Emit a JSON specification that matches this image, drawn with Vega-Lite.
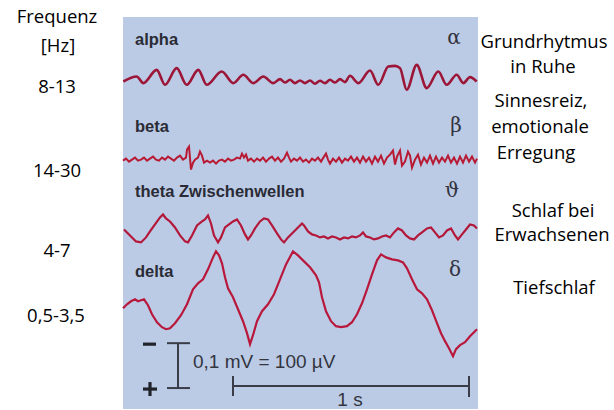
{
  "$schema": "https://vega.github.io/schema/vega-lite/v6.json",
  "width": 614,
  "height": 410,
  "autosize": {"type": "fit", "contains": "padding"},
  "padding": 0,
  "background": "white",
  "config": {"view": {"stroke": null}},
  "datasets": {
    "panel": [{"x": 123, "x2": 478, "y": 17, "y2": 410}],
    "alpha": [
      {"x":123.3,"y":81.7},{"x":136.7,"y":76.7},{"x":143.3,"y":83.3},{"x":156.7,"y":70},{"x":165,"y":85},{"x":176.7,"y":68.3},{"x":186.7,"y":85},{"x":198.3,"y":70},{"x":206.7,"y":85},{"x":221.7,"y":71.7},{"x":233.3,"y":83.3},{"x":243.3,"y":75},{"x":253.3,"y":83.3},{"x":263.3,"y":76.7},{"x":273.3,"y":83.3},{"x":280,"y":79.3},{"x":285,"y":82.7},{"x":290,"y":80},{"x":295,"y":83.3},{"x":300,"y":80.7},{"x":305,"y":83.3},{"x":310,"y":80.7},{"x":315,"y":84},{"x":320,"y":81},{"x":325,"y":83.3},{"x":330,"y":80},{"x":335,"y":82.7},{"x":340,"y":79.3},{"x":345,"y":82.3},{"x":350,"y":76},{"x":358.3,"y":83.3},{"x":370,"y":70.7},{"x":378.3,"y":85},{"x":388.3,"y":66.7},{"x":395,"y":66},{"x":400,"y":68.3},{"x":406.7,"y":90},{"x":416.7,"y":65},{"x":426.7,"y":88.3},{"x":438.3,"y":71.7},{"x":446.7,"y":85},{"x":456.7,"y":75},{"x":463.3,"y":83.3},{"x":470,"y":77.3},{"x":476.7,"y":81.7}
    ],
    "beta": [
      {"x":123,"y":161},{"x":126,"y":159},{"x":129,"y":162},{"x":132,"y":160},{"x":135,"y":158},{"x":138,"y":161},{"x":141,"y":160},{"x":144,"y":158},{"x":147,"y":161},{"x":150,"y":159},{"x":153,"y":157},{"x":156,"y":160},{"x":159,"y":161},{"x":162,"y":158},{"x":165,"y":160},{"x":168,"y":157},{"x":171,"y":159},{"x":174,"y":161},{"x":177,"y":158},{"x":180,"y":156},{"x":183,"y":160},{"x":186,"y":158},{"x":187,"y":150},{"x":189,"y":147},{"x":191,"y":170},{"x":193,"y":163},{"x":195,"y":160},{"x":198,"y":158},{"x":200,"y":152},{"x":202,"y":156},{"x":204,"y":163},{"x":207,"y":161},{"x":210,"y":163},{"x":213,"y":161},{"x":216,"y":164},{"x":219,"y":161},{"x":222,"y":160},{"x":225,"y":162},{"x":228,"y":159},{"x":231,"y":161},{"x":234,"y":160},{"x":237,"y":158},{"x":240,"y":159},{"x":242,"y":154},{"x":244,"y":158},{"x":246,"y":155},{"x":248,"y":161},{"x":251,"y":159},{"x":254,"y":162},{"x":257,"y":159},{"x":260,"y":161},{"x":263,"y":158},{"x":266,"y":162},{"x":269,"y":159},{"x":272,"y":157},{"x":275,"y":161},{"x":278,"y":158},{"x":281,"y":162},{"x":284,"y":159},{"x":287,"y":153},{"x":289,"y":158},{"x":291,"y":162},{"x":294,"y":159},{"x":297,"y":161},{"x":300,"y":158},{"x":303,"y":162},{"x":306,"y":160},{"x":309,"y":163},{"x":312,"y":159},{"x":315,"y":161},{"x":318,"y":158},{"x":321,"y":162},{"x":324,"y":157},{"x":326,"y":154},{"x":328,"y":160},{"x":330,"y":164},{"x":333,"y":159},{"x":336,"y":162},{"x":339,"y":158},{"x":342,"y":163},{"x":345,"y":159},{"x":348,"y":161},{"x":351,"y":157},{"x":354,"y":162},{"x":357,"y":158},{"x":360,"y":163},{"x":363,"y":157},{"x":366,"y":162},{"x":369,"y":158},{"x":372,"y":164},{"x":375,"y":157},{"x":378,"y":162},{"x":381,"y":156},{"x":384,"y":164},{"x":387,"y":158},{"x":390,"y":155},{"x":393,"y":151},{"x":395,"y":165},{"x":397,"y":157},{"x":400,"y":151},{"x":402,"y":166},{"x":405,"y":162},{"x":408,"y":152},{"x":410,"y":156},{"x":412,"y":168},{"x":415,"y":160},{"x":418,"y":155},{"x":421,"y":165},{"x":424,"y":158},{"x":427,"y":163},{"x":430,"y":156},{"x":433,"y":164},{"x":436,"y":157},{"x":439,"y":163},{"x":442,"y":158},{"x":445,"y":162},{"x":448,"y":156},{"x":451,"y":163},{"x":454,"y":158},{"x":457,"y":164},{"x":460,"y":157},{"x":463,"y":163},{"x":466,"y":156},{"x":469,"y":162},{"x":472,"y":157},{"x":475,"y":163},{"x":477,"y":159}
    ],
    "theta": [
      {"x":124,"y":230},{"x":130,"y":236},{"x":136,"y":242},{"x":141,"y":243},{"x":146,"y":238},{"x":150,"y":232},{"x":155,"y":225},{"x":160,"y":218},{"x":163,"y":215},{"x":166,"y":219},{"x":170,"y":222},{"x":175,"y":228},{"x":180,"y":236},{"x":185,"y":242},{"x":188,"y":243},{"x":192,"y":236},{"x":197,"y":226},{"x":202,"y":222},{"x":205,"y":220},{"x":208,"y":216},{"x":211,"y":224},{"x":214,"y":236},{"x":218,"y":243},{"x":221,"y":238},{"x":225,"y":228},{"x":229,"y":225},{"x":233,"y":222},{"x":237,"y":220},{"x":241,"y":226},{"x":245,"y":235},{"x":248,"y":240},{"x":251,"y":236},{"x":255,"y":229},{"x":260,"y":222},{"x":264,"y":219},{"x":268,"y":220},{"x":272,"y":226},{"x":277,"y":234},{"x":281,"y":240},{"x":284,"y":243},{"x":288,"y":238},{"x":293,"y":233},{"x":298,"y":228},{"x":302,"y":224},{"x":304,"y":226},{"x":308,"y":232},{"x":312,"y":235},{"x":316,"y":236},{"x":320,"y":238},{"x":324,"y":237},{"x":328,"y":239},{"x":332,"y":237},{"x":336,"y":238},{"x":340,"y":240},{"x":344,"y":238},{"x":348,"y":239},{"x":352,"y":237},{"x":356,"y":238},{"x":360,"y":236},{"x":363,"y":233},{"x":366,"y":237},{"x":370,"y":238},{"x":374,"y":240},{"x":378,"y":239},{"x":382,"y":237},{"x":386,"y":236},{"x":390,"y":238},{"x":394,"y":233},{"x":398,"y":229},{"x":402,"y":231},{"x":406,"y":236},{"x":410,"y":239},{"x":414,"y":240},{"x":418,"y":236},{"x":422,"y":233},{"x":427,"y":229},{"x":431,"y":228},{"x":435,"y":233},{"x":439,"y":238},{"x":443,"y":236},{"x":447,"y":231},{"x":451,"y":229},{"x":455,"y":236},{"x":458,"y":240},{"x":462,"y":235},{"x":466,"y":230},{"x":470,"y":225},{"x":474,"y":226},{"x":477,"y":229}
    ],
    "delta": [
      {"x":123,"y":309},{"x":127,"y":305},{"x":131,"y":302},{"x":135,"y":300},{"x":138,"y":302},{"x":141,"y":301},{"x":144,"y":300},{"x":148,"y":306},{"x":152,"y":315},{"x":157,"y":323},{"x":162,"y":328},{"x":166,"y":330},{"x":170,"y":329},{"x":175,"y":324},{"x":181,"y":316},{"x":187,"y":305},{"x":193,"y":290},{"x":198,"y":284},{"x":203,"y":280},{"x":208,"y":270},{"x":213,"y":258},{"x":216,"y":252},{"x":219,"y":256},{"x":222,"y":264},{"x":225,"y":278},{"x":228,"y":289},{"x":233,"y":298},{"x":238,"y":310},{"x":243,"y":322},{"x":247,"y":334},{"x":250,"y":345},{"x":253,"y":336},{"x":257,"y":322},{"x":262,"y":312},{"x":268,"y":305},{"x":274,"y":295},{"x":280,"y":280},{"x":286,"y":265},{"x":293,"y":252},{"x":298,"y":256},{"x":304,"y":262},{"x":310,"y":268},{"x":316,"y":276},{"x":319,"y":283},{"x":322,"y":298},{"x":326,"y":312},{"x":331,"y":322},{"x":336,"y":327},{"x":341,"y":328},{"x":347,"y":327},{"x":352,"y":323},{"x":357,"y":315},{"x":362,"y":304},{"x":367,"y":290},{"x":372,"y":275},{"x":377,"y":261},{"x":381,"y":255},{"x":386,"y":258},{"x":392,"y":260},{"x":398,"y":261},{"x":403,"y":263},{"x":407,"y":269},{"x":412,"y":280},{"x":417,"y":290},{"x":422,"y":294},{"x":427,"y":300},{"x":432,"y":311},{"x":437,"y":324},{"x":441,"y":334},{"x":445,"y":342},{"x":449,"y":349},{"x":453,"y":357},{"x":456,"y":350},{"x":460,"y":346},{"x":465,"y":343},{"x":470,"y":337},{"x":477,"y":330}
    ],
    "bars": [
      {"part":"thin","x":178,"x2":178,"y":344,"y2":389},
      {"part":"thin","x":167,"x2":190,"y":344,"y2":344},
      {"part":"thin","x":167,"x2":190,"y":389,"y2":389},
      {"part":"thin","x":233,"x2":469,"y":387,"y2":387},
      {"part":"thin","x":233,"x2":233,"y":377,"y2":397},
      {"part":"thin","x":469,"x2":469,"y":377,"y2":398},
      {"part":"sign","x":143,"x2":156,"y":345,"y2":345},
      {"part":"sign","x":143,"x2":157,"y":390,"y2":390},
      {"part":"sign","x":150,"x2":150,"y":383,"y2":397}
    ],
    "labels": [
      {"kind":"outer","x":57,"y":17,"text":"Frequenz"},
      {"kind":"outer","x":58,"y":46,"text":"[Hz]"},
      {"kind":"outer","x":57,"y":87,"text":"8-13"},
      {"kind":"outer","x":57,"y":171,"text":"14-30"},
      {"kind":"outer","x":57,"y":252,"text":"4-7"},
      {"kind":"outer","x":56,"y":317,"text":"0,5-3,5"},
      {"kind":"outer","x":544,"y":42,"text":"Grundrhytmus"},
      {"kind":"outer","x":543,"y":67,"text":"in Ruhe"},
      {"kind":"outer","x":541,"y":101,"text":"Sinnesreiz,"},
      {"kind":"outer","x":540,"y":127,"text":"emotionale"},
      {"kind":"outer","x":536,"y":153,"text":"Erregung"},
      {"kind":"outer","x":553,"y":212,"text":"Schlaf bei"},
      {"kind":"outer","x":552,"y":236,"text":"Erwachsenen"},
      {"kind":"outer","x":554,"y":289,"text":"Tiefschlaf"},
      {"kind":"band","x":135,"y":40,"text":"alpha"},
      {"kind":"band","x":135,"y":127,"text":"beta"},
      {"kind":"band","x":135,"y":192,"text":"theta Zwischenwellen"},
      {"kind":"band","x":135,"y":273,"text":"delta"},
      {"kind":"greek","x":454,"y":38,"text":"α"},
      {"kind":"greek","x":456,"y":126,"text":"β"},
      {"kind":"greek","x":452,"y":191,"text":"ϑ"},
      {"kind":"greek","x":455,"y":271,"text":"δ"},
      {"kind":"scaleL","x":193,"y":363,"text":"0,1 mV = 100 µV"},
      {"kind":"scaleC","x":350,"y":401,"text":"1 s"}
    ]
  },
  "layer": [
    {
      "data": {"name": "panel"},
      "mark": {"type": "rect", "color": "#bccbe5"},
      "encoding": {
        "x": {"field": "x", "type": "quantitative", "scale": {"domain": [0, 614], "nice": false, "zero": false}, "axis": null},
        "x2": {"field": "x2"},
        "y": {"field": "y", "type": "quantitative", "scale": {"domain": [0, 410], "nice": false, "zero": false, "reverse": true}, "axis": null},
        "y2": {"field": "y2"}
      }
    },
    {
      "data": {"name": "alpha"},
      "mark": {"type": "line", "color": "#9c1638", "strokeWidth": 2.6, "interpolate": "monotone"},
      "encoding": {
        "x": {"field": "x", "type": "quantitative", "axis": null},
        "y": {"field": "y", "type": "quantitative", "axis": null}
      }
    },
    {
      "data": {"name": "beta"},
      "mark": {"type": "line", "color": "#b81a34", "strokeWidth": 2},
      "encoding": {
        "x": {"field": "x", "type": "quantitative", "axis": null},
        "y": {"field": "y", "type": "quantitative", "axis": null}
      }
    },
    {
      "data": {"name": "theta"},
      "mark": {"type": "line", "color": "#b3183a", "strokeWidth": 2.2},
      "encoding": {
        "x": {"field": "x", "type": "quantitative", "axis": null},
        "y": {"field": "y", "type": "quantitative", "axis": null}
      }
    },
    {
      "data": {"name": "delta"},
      "mark": {"type": "line", "color": "#b8183c", "strokeWidth": 2.2},
      "encoding": {
        "x": {"field": "x", "type": "quantitative", "axis": null},
        "y": {"field": "y", "type": "quantitative", "axis": null}
      }
    },
    {
      "data": {"name": "bars"},
      "transform": [{"filter": "datum.part === 'thin'"}],
      "mark": {"type": "rule", "color": "#3a3d48", "strokeWidth": 2},
      "encoding": {
        "x": {"field": "x", "type": "quantitative", "axis": null},
        "x2": {"field": "x2"},
        "y": {"field": "y", "type": "quantitative", "axis": null},
        "y2": {"field": "y2"}
      }
    },
    {
      "data": {"name": "bars"},
      "transform": [{"filter": "datum.part === 'sign'"}],
      "mark": {"type": "rule", "color": "#22242c", "strokeWidth": 3.2},
      "encoding": {
        "x": {"field": "x", "type": "quantitative", "axis": null},
        "x2": {"field": "x2"},
        "y": {"field": "y", "type": "quantitative", "axis": null},
        "y2": {"field": "y2"}
      }
    },
    {
      "data": {"name": "labels"},
      "transform": [{"filter": "datum.kind === 'outer'"}],
      "mark": {"type": "text", "font": "Open Sans", "fontSize": 18.5, "color": "#000000", "align": "center", "baseline": "middle"},
      "encoding": {
        "x": {"field": "x", "type": "quantitative", "axis": null},
        "y": {"field": "y", "type": "quantitative", "axis": null},
        "text": {"field": "text"}
      }
    },
    {
      "data": {"name": "labels"},
      "transform": [{"filter": "datum.kind === 'band'"}],
      "mark": {"type": "text", "font": "Liberation Sans", "fontWeight": "bold", "fontSize": 16.5, "color": "#2a2b36", "align": "left", "baseline": "middle"},
      "encoding": {
        "x": {"field": "x", "type": "quantitative", "axis": null},
        "y": {"field": "y", "type": "quantitative", "axis": null},
        "text": {"field": "text"}
      }
    },
    {
      "data": {"name": "labels"},
      "transform": [{"filter": "datum.kind === 'greek'"}],
      "mark": {"type": "text", "font": "DejaVu Serif", "fontSize": 20, "color": "#333340", "align": "center", "baseline": "middle"},
      "encoding": {
        "x": {"field": "x", "type": "quantitative", "axis": null},
        "y": {"field": "y", "type": "quantitative", "axis": null},
        "text": {"field": "text"}
      }
    },
    {
      "data": {"name": "labels"},
      "transform": [{"filter": "datum.kind === 'scaleL'"}],
      "mark": {"type": "text", "font": "Liberation Sans", "fontSize": 19, "color": "#33353f", "align": "left", "baseline": "middle"},
      "encoding": {
        "x": {"field": "x", "type": "quantitative", "axis": null},
        "y": {"field": "y", "type": "quantitative", "axis": null},
        "text": {"field": "text"}
      }
    },
    {
      "data": {"name": "labels"},
      "transform": [{"filter": "datum.kind === 'scaleC'"}],
      "mark": {"type": "text", "font": "Liberation Sans", "fontSize": 19, "color": "#33353f", "align": "center", "baseline": "middle"},
      "encoding": {
        "x": {"field": "x", "type": "quantitative", "axis": null},
        "y": {"field": "y", "type": "quantitative", "axis": null},
        "text": {"field": "text"}
      }
    }
  ]
}
